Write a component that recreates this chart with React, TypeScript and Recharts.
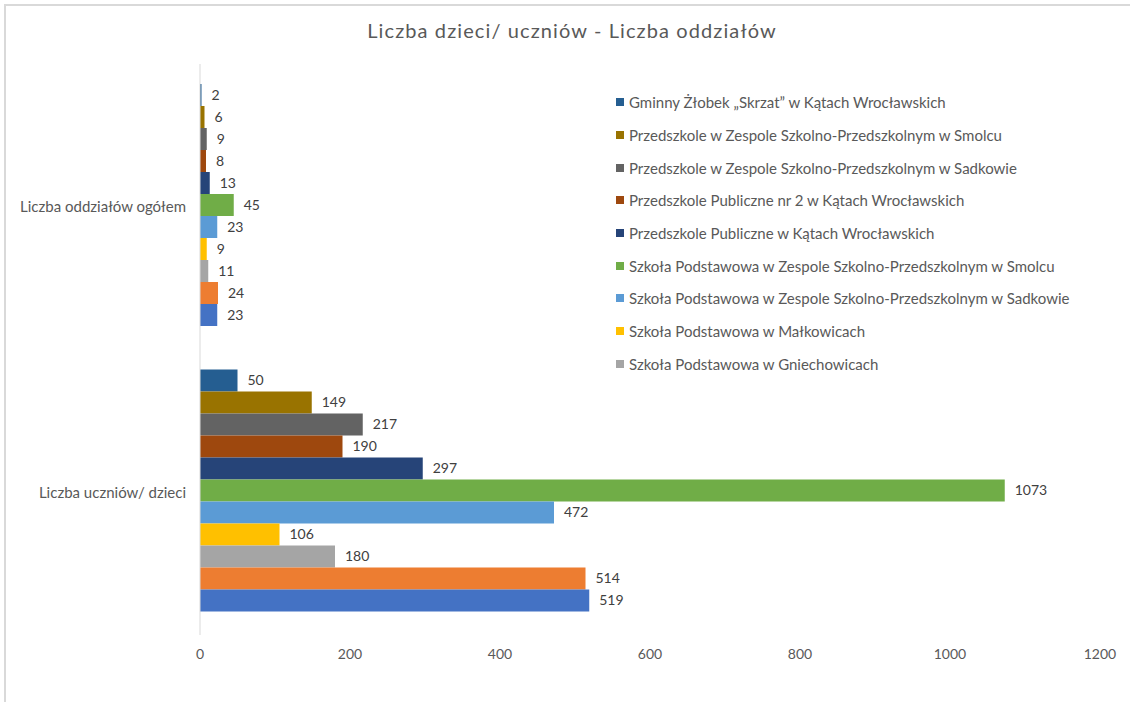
import { Bar, BarChart, LabelList, Legend, XAxis, YAxis } from "recharts";

const categories = ["Liczba oddziałów ogółem", "Liczba uczniów/ dzieci"];

// order = order of bars from top to bottom inside each group
const seriesNames = [
  "Gminny Żłobek „Skrzat” w Kątach Wrocławskich",
  "Przedszkole w Zespole Szkolno-Przedszkolnym w Smolcu",
  "Przedszkole w Zespole Szkolno-Przedszkolnym w Sadkowie",
  "Przedszkole Publiczne nr 2 w Kątach Wrocławskich",
  "Przedszkole Publiczne w Kątach Wrocławskich",
  "Szkoła Podstawowa w Zespole Szkolno-Przedszkolnym w Smolcu",
  "Szkoła Podstawowa w Zespole Szkolno-Przedszkolnym w Sadkowie",
  "Szkoła Podstawowa w Małkowicach",
  "Szkoła Podstawowa w Gniechowicach",
  "Seria 2",
  "Seria 1",
];

const oddzialy = [2, 6, 9, 8, 13, 45, 23, 9, 11, 24, 23];
const uczniowie = [50, 149, 217, 190, 297, 1073, 472, 106, 180, 514, 519];

const colors = [
  "#255E91",
  "#997300",
  "#636363",
  "#9E480E",
  "#264478",
  "#70AD47",
  "#5B9BD5",
  "#FFC000",
  "#A5A5A5",
  "#ED7D31",
  "#4472C4",
];

const xTicks = [0, 200, 400, 600, 800, 1000, 1200];

// only the first 9 entries fit in the legend box
const legendCount = 9;

const FONT = "Lato, 'Noto Sans', sans-serif";

const data = categories.map((name, ci) => {
  const values = ci === 0 ? oddzialy : uczniowie;
  const row: Record<string, string | number> = { name };
  seriesNames.forEach((_, si) => {
    row[`s${si}`] = values[si];
  });
  return row;
});

function LegendBox() {
  return (
    <div style={{ fontFamily: FONT, fontSize: 15, color: "#595959" }}>
      {seriesNames.slice(0, legendCount).map((n, i) => (
        <div key={n} style={{ height: 32.7, display: "flex", alignItems: "center", whiteSpace: "nowrap" }}>
          <span style={{ width: 8, height: 8, background: colors[i], display: "inline-block", marginRight: 5 }} />
          {n}
        </div>
      ))}
    </div>
  );
}

export default function App() {
  return (
    <div style={{ position: "absolute", left: 0, top: 0, width: 1130, height: 702, overflow: "hidden", background: "#fff" }}>
      <div
        style={{
          position: "absolute",
          left: 4,
          top: 4,
          width: 1200,
          height: 800,
          border: "2px solid #d9d9d9",
        }}
      />
      <div
        style={{
          position: "absolute",
          left: 572,
          top: 18,
          transform: "translateX(-50%)",
          fontFamily: FONT,
          fontSize: 20,
          letterSpacing: 1.1,
          color: "#595959",
          whiteSpace: "nowrap",
        }}
      >
        Liczba dzieci/ uczniów - Liczba oddziałów
      </div>
      <BarChart
        layout="vertical"
        width={1130}
        height={702}
        data={data}
        margin={{ top: 64, right: 30, bottom: 37, left: 0 }}
        barCategoryGap={20}
        barGap={0}
        style={{ fontFamily: FONT }}
      >
        <XAxis
          type="number"
          domain={[0, 1200]}
          ticks={xTicks}
          axisLine={false}
          tickLine={false}
          tick={{ fill: "#595959", fontSize: 14 }}
          tickMargin={8}
          height={30}
        />
        <YAxis
          type="category"
          dataKey="name"
          width={200}
          axisLine={{ stroke: "#d9d9d9" }}
          tickLine={false}
          tick={{ fill: "#595959", fontSize: 15 }}
          tickMargin={8}
        />
        <Legend
          layout="horizontal"
          verticalAlign="middle"
          align="center"
          wrapperStyle={{ left: 616, top: 86, width: 520 }}
          content={() => <LegendBox />}
        />
        {seriesNames.map((n, i) => (
          <Bar key={n} dataKey={`s${i}`} name={n} fill={colors[i]} isAnimationActive={false}>
            <LabelList dataKey={`s${i}`} position="right" offset={10} fill="#404040" fontSize={14} />
          </Bar>
        ))}
      </BarChart>
    </div>
  );
}
